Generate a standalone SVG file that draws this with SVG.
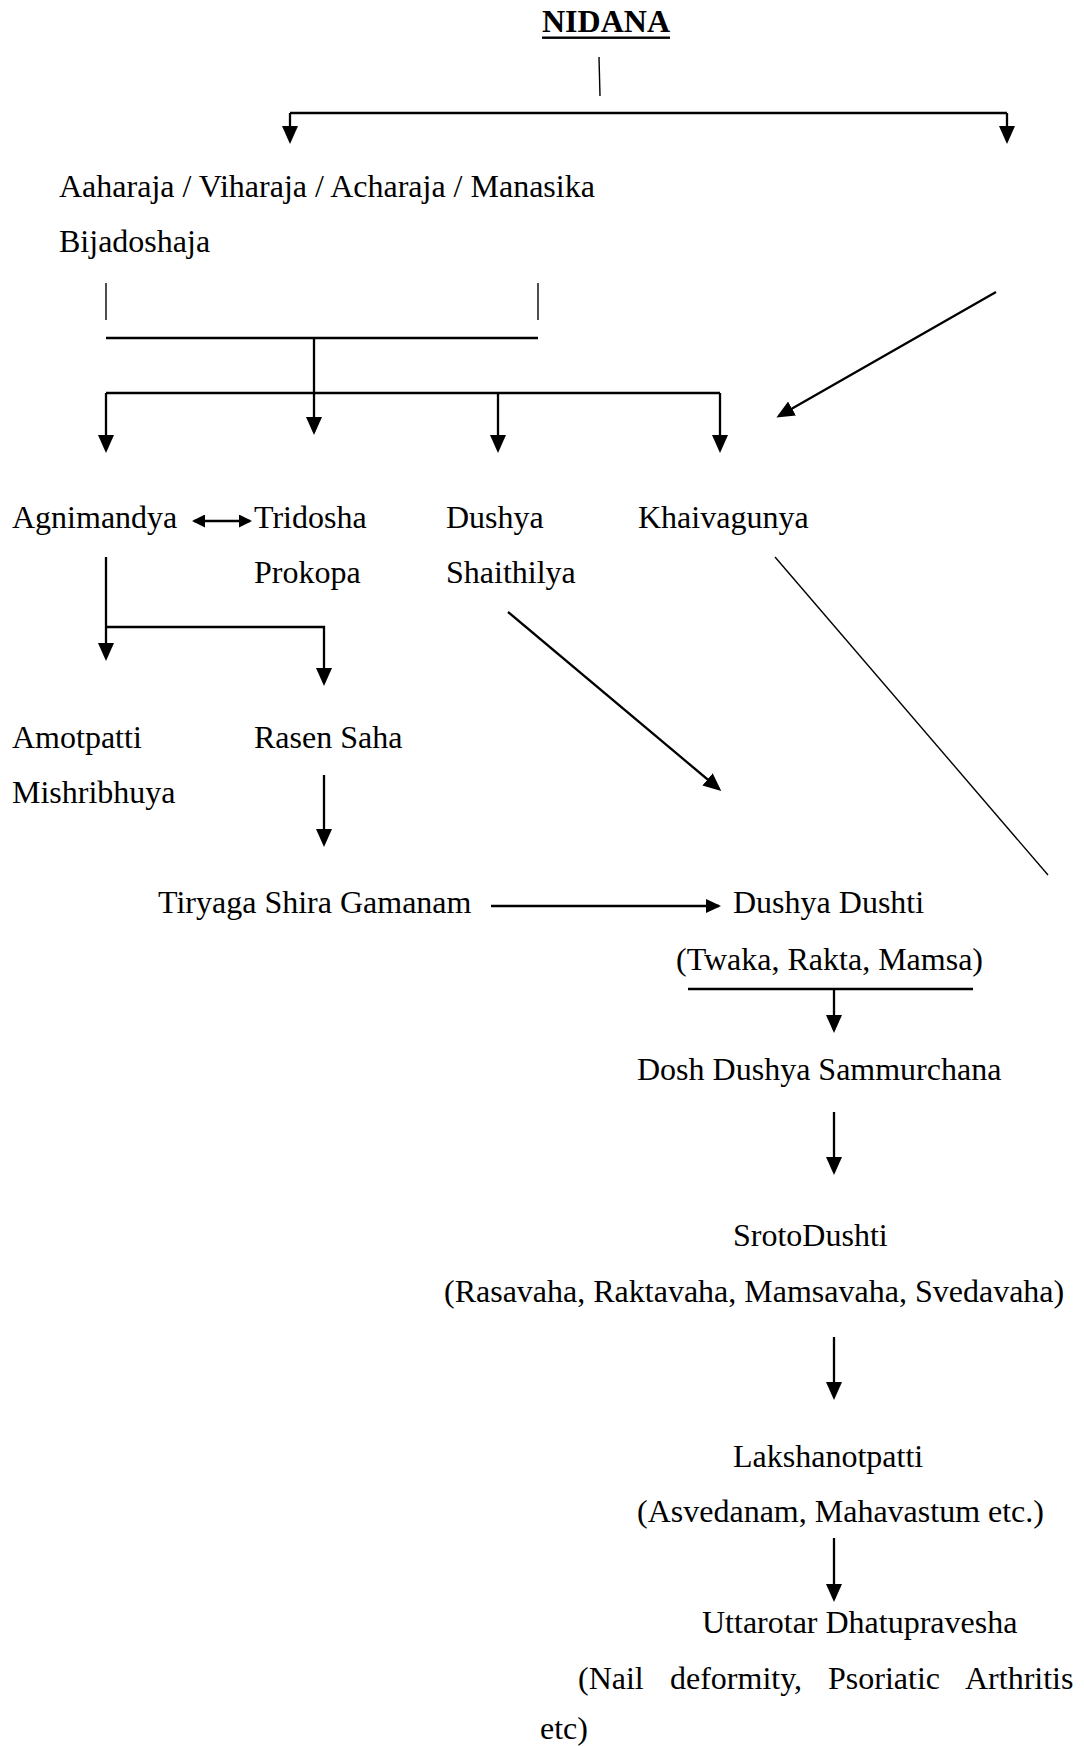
<svg xmlns="http://www.w3.org/2000/svg" width="1084" height="1746" viewBox="0 0 1084 1746">
<style>
text{font-family:"Liberation Serif","Times New Roman",serif;font-size:32px;fill:#000}
.b{font-weight:bold}
.c{fill:none;stroke:#000;stroke-width:2.3}
.t{fill:none;stroke:#000;stroke-width:1.4}
</style>
<defs>
<marker id="ah" markerUnits="userSpaceOnUse" markerWidth="18" markerHeight="16" refX="15" refY="8" orient="auto"><path d="M0,0 L18,8 L0,16 z" fill="#000"/></marker>
<marker id="as" markerUnits="userSpaceOnUse" markerWidth="13" markerHeight="13" refX="11" refY="6.5" orient="auto-start-reverse"><path d="M0,0 L13,6.5 L0,13 z" fill="#000"/></marker>
<marker id="am" markerUnits="userSpaceOnUse" markerWidth="15" markerHeight="14" refX="13" refY="7" orient="auto"><path d="M0,0 L15,7 L0,14 z" fill="#000"/></marker>
</defs>
<rect width="1084" height="1746" fill="#fff"/>
<g id="connectors">
<line class="t" x1="599" y1="57" x2="600" y2="96"/>
<path class="c" d="M290,113 H1007"/>
<path class="c" d="M290,113 V141" marker-end="url(#ah)"/>
<path class="c" d="M1007,113 V141" marker-end="url(#ah)"/>
<line class="t" x1="106" y1="283" x2="106" y2="320"/>
<line class="t" x1="538" y1="283" x2="538" y2="320"/>
<path class="c" d="M106,338 H538"/>
<path class="c" d="M314,338 V432" marker-end="url(#ah)"/>
<path class="c" d="M106,393 H720"/>
<path class="c" d="M106,393 V450" marker-end="url(#ah)"/>
<path class="c" d="M498,393 V450" marker-end="url(#ah)"/>
<path class="c" d="M720,393 V450" marker-end="url(#ah)"/>
<path class="c" d="M996,292 L779,416" marker-end="url(#ah)"/>
<path class="c" d="M194,521 H250" marker-start="url(#as)" marker-end="url(#as)"/>
<path class="c" d="M106,557 V658" marker-end="url(#ah)"/>
<path class="c" d="M106,627 H324 V683" marker-end="url(#ah)"/>
<path class="c" d="M324,775 V844" marker-end="url(#ah)"/>
<path class="c" d="M508,612 L719,789" marker-end="url(#ah)"/>
<line class="t" x1="775" y1="557" x2="1048" y2="875"/>
<path class="c" d="M491,906 H719" marker-end="url(#am)"/>
<path class="c" d="M688,989 H973"/>
<path class="c" d="M834,989 V1030" marker-end="url(#ah)"/>
<path class="c" d="M834,1112 V1172" marker-end="url(#ah)"/>
<path class="c" d="M834,1337 V1397" marker-end="url(#ah)"/>
<path class="c" d="M834,1538 V1599" marker-end="url(#ah)"/>
</g>
<g id="nidana"><text class="b" x="542" y="32">NIDANA</text><rect x="542" y="36.5" width="128" height="2.4" fill="#000"/></g>
<g id="causes"><text x="59" y="197">Aaharaja / Viharaja / Acharaja / Manasika</text></g>
<g id="bijadoshaja"><text x="59" y="252">Bijadoshaja</text></g>
<g id="agnimandya"><text x="12" y="528">Agnimandya</text></g>
<g id="tridosha"><text x="254" y="528">Tridosha</text><text x="254" y="583">Prokopa</text></g>
<g id="dushya"><text x="446" y="528">Dushya</text><text x="446" y="583">Shaithilya</text></g>
<g id="khaivagunya"><text x="638" y="528">Khaivagunya</text></g>
<g id="amotpatti"><text x="12" y="748">Amotpatti</text><text x="12" y="803">Mishribhuya</text></g>
<g id="rasen"><text x="254" y="748">Rasen Saha</text></g>
<g id="tiryaga"><text x="158" y="913">Tiryaga Shira Gamanam</text></g>
<g id="dushti"><text x="733" y="913">Dushya Dushti</text><text x="676" y="970">(Twaka, Rakta, Mamsa)</text></g>
<g id="sammurchana"><text x="637" y="1080">Dosh Dushya Sammurchana</text></g>
<g id="srotodushti"><text x="733" y="1246">SrotoDushti</text><text x="444" y="1302">(Rasavaha, Raktavaha, Mamsavaha, Svedavaha)</text></g>
<g id="lakshanotpatti"><text x="733" y="1467">Lakshanotpatti</text><text x="637" y="1522">(Asvedanam, Mahavastum etc.)</text></g>
<g id="uttarotar"><text x="702" y="1633">Uttarotar Dhatupravesha</text><text y="1689"><tspan x="578">(Nail</tspan><tspan x="670">deformity,</tspan><tspan x="828">Psoriatic</tspan><tspan x="965">Arthritis</tspan></text><text x="540" y="1739">etc)</text></g>
</svg>
